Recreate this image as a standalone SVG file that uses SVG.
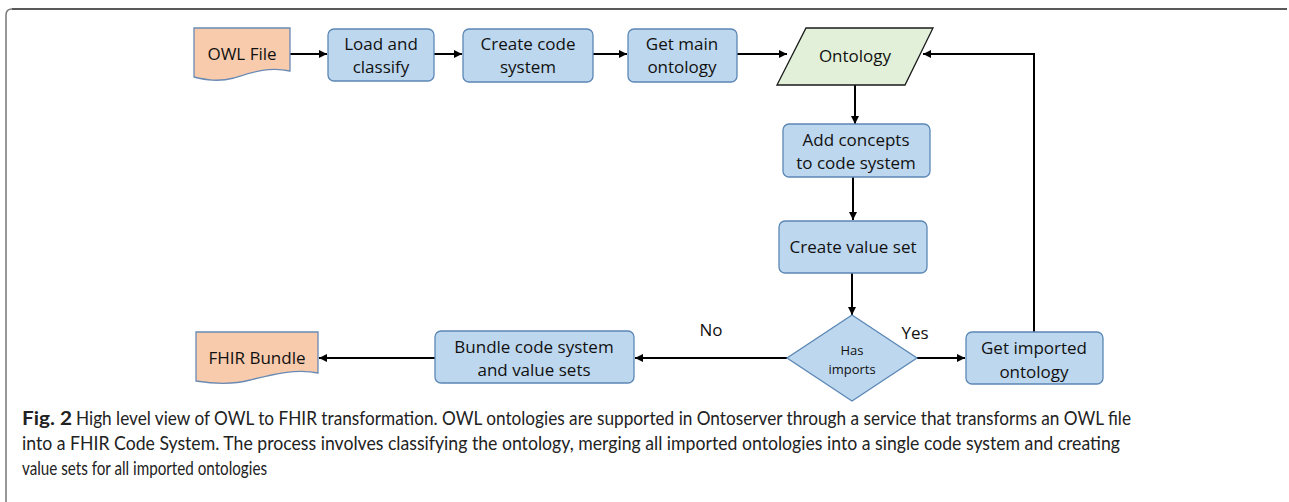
<svg xmlns="http://www.w3.org/2000/svg" width="1289" height="502" viewBox="0 0 1289 502">
<defs>
<style>
.proc{fill:#BDD7EE;stroke:#5B87B5;stroke-width:1.3}
.doc{fill:#F8CBAD;stroke:#6A8AB3;stroke-width:1.3}
.data{fill:#E2F0D9;stroke:#1a1a1a;stroke-width:1.3}
.t{font-family:"Open Sans","Noto Sans",sans-serif;font-size:17px;fill:#111;text-anchor:middle}
.ts{font-family:"Open Sans","Noto Sans",sans-serif;font-size:13px;fill:#111;text-anchor:middle}
.lbl{font-family:"Open Sans","Noto Sans",sans-serif;font-size:17px;fill:#111;text-anchor:middle}
.cap{font-family:"Liberation Sans Narrow",Lato,"Liberation Sans",sans-serif;font-size:19px;fill:#222}
.c{fill:none;stroke:#000;stroke-width:2}
</style>
<marker id="ah" viewBox="0 0 10 10" refX="10" refY="5" markerWidth="4" markerHeight="4" orient="auto" markerUnits="strokeWidth">
<path d="M0,0 L10,5 L0,10 z" fill="#000"/>
</marker>
</defs>
<rect width="1289" height="502" fill="#fff"/>
<g id="frame">
<path d="M6,502 V15 Q6,9 12,9" fill="none" stroke="#777" stroke-width="1.5"/>
<path d="M12,9 H1287" fill="none" stroke="#222" stroke-width="1.5"/>
</g>
<g id="connectors">
<path class="c" d="M290,54 H327" marker-end="url(#ah)"/>
<path class="c" d="M434,54 H462" marker-end="url(#ah)"/>
<path class="c" d="M593,54 H627" marker-end="url(#ah)"/>
<path class="c" d="M737,54 H787" marker-end="url(#ah)"/>
<path class="c" d="M855,85 V124" marker-end="url(#ah)"/>
<path class="c" d="M853,177 V220" marker-end="url(#ah)"/>
<path class="c" d="M852,273 V315" marker-end="url(#ah)"/>
<path class="c" d="M917,358 H965" marker-end="url(#ah)"/>
<path class="c" d="M1034,332 V54 H923" marker-end="url(#ah)"/>
<path class="c" d="M787,358 H635" marker-end="url(#ah)"/>
<path class="c" d="M435,358 H319" marker-end="url(#ah)"/>
</g>
<g id="owl-file">
<path class="doc" d="M194,28 H290 V71 C268,66 250,73 234,78 C218,82 206,80 194,77 Z"/>
<text class="t" x="242" y="60">OWL File</text>
</g>
<g id="load-classify">
<rect class="proc" x="328" y="29" width="106" height="52" rx="6"/>
<text class="t" x="381" y="50">Load and</text>
<text class="t" x="381" y="73">classify</text>
</g>
<g id="create-code-system">
<rect class="proc" x="463" y="29" width="130" height="53" rx="6"/>
<text class="t" x="528" y="50">Create code</text>
<text class="t" x="528" y="73">system</text>
</g>
<g id="get-main-ontology">
<rect class="proc" x="628" y="29" width="109" height="53" rx="6"/>
<text class="t" x="682" y="50">Get main</text>
<text class="t" x="682" y="73">ontology</text>
</g>
<g id="ontology">
<path class="data" d="M806,28 H933 L905,85 H777 Z"/>
<text class="t" x="855" y="62">Ontology</text>
</g>
<g id="add-concepts">
<rect class="proc" x="783" y="124" width="147" height="53" rx="6"/>
<text class="t" x="856" y="146">Add concepts</text>
<text class="t" x="856" y="169">to code system</text>
</g>
<g id="create-value-set">
<rect class="proc" x="779" y="221" width="148" height="52" rx="6"/>
<text class="t" x="853" y="253">Create value set</text>
</g>
<g id="has-imports">
<path class="proc" d="M852,315 L917,358 L852,401 L787,358 Z"/>
<text class="ts" x="852" y="355">Has</text>
<text class="ts" x="852" y="374">imports</text>
</g>
<text class="lbl" x="711" y="336">No</text>
<text class="lbl" x="915" y="339">Yes</text>
<g id="get-imported-ontology">
<rect class="proc" x="966" y="332" width="137" height="52" rx="6"/>
<text class="t" x="1034" y="354">Get imported</text>
<text class="t" x="1034" y="378">ontology</text>
</g>
<g id="bundle">
<rect class="proc" x="435" y="331" width="199" height="52" rx="6"/>
<text class="t" x="534" y="353">Bundle code system</text>
<text class="t" x="534" y="376">and value sets</text>
</g>
<g id="fhir-bundle">
<path class="doc" d="M196,332 H318 V373 C296,368 270,375 250,380 C232,385 215,384 196,381 Z"/>
<text class="t" x="257" y="364">FHIR Bundle</text>
</g>
<g id="caption">
<text class="cap" x="22" y="425" font-weight="bold" textLength="50" lengthAdjust="spacingAndGlyphs">Fig. 2</text>
<text class="cap" x="76" y="425" textLength="1055" lengthAdjust="spacingAndGlyphs">High level view of OWL to FHIR transformation. OWL ontologies are supported in Ontoserver through a service that transforms an OWL file</text>
<text class="cap" x="22" y="450" textLength="1098" lengthAdjust="spacingAndGlyphs">into a FHIR Code System. The process involves classifying the ontology, merging all imported ontologies into a single code system and creating</text>
<text class="cap" x="22" y="475" textLength="245" lengthAdjust="spacingAndGlyphs">value sets for all imported ontologies</text>
</g>
</svg>
